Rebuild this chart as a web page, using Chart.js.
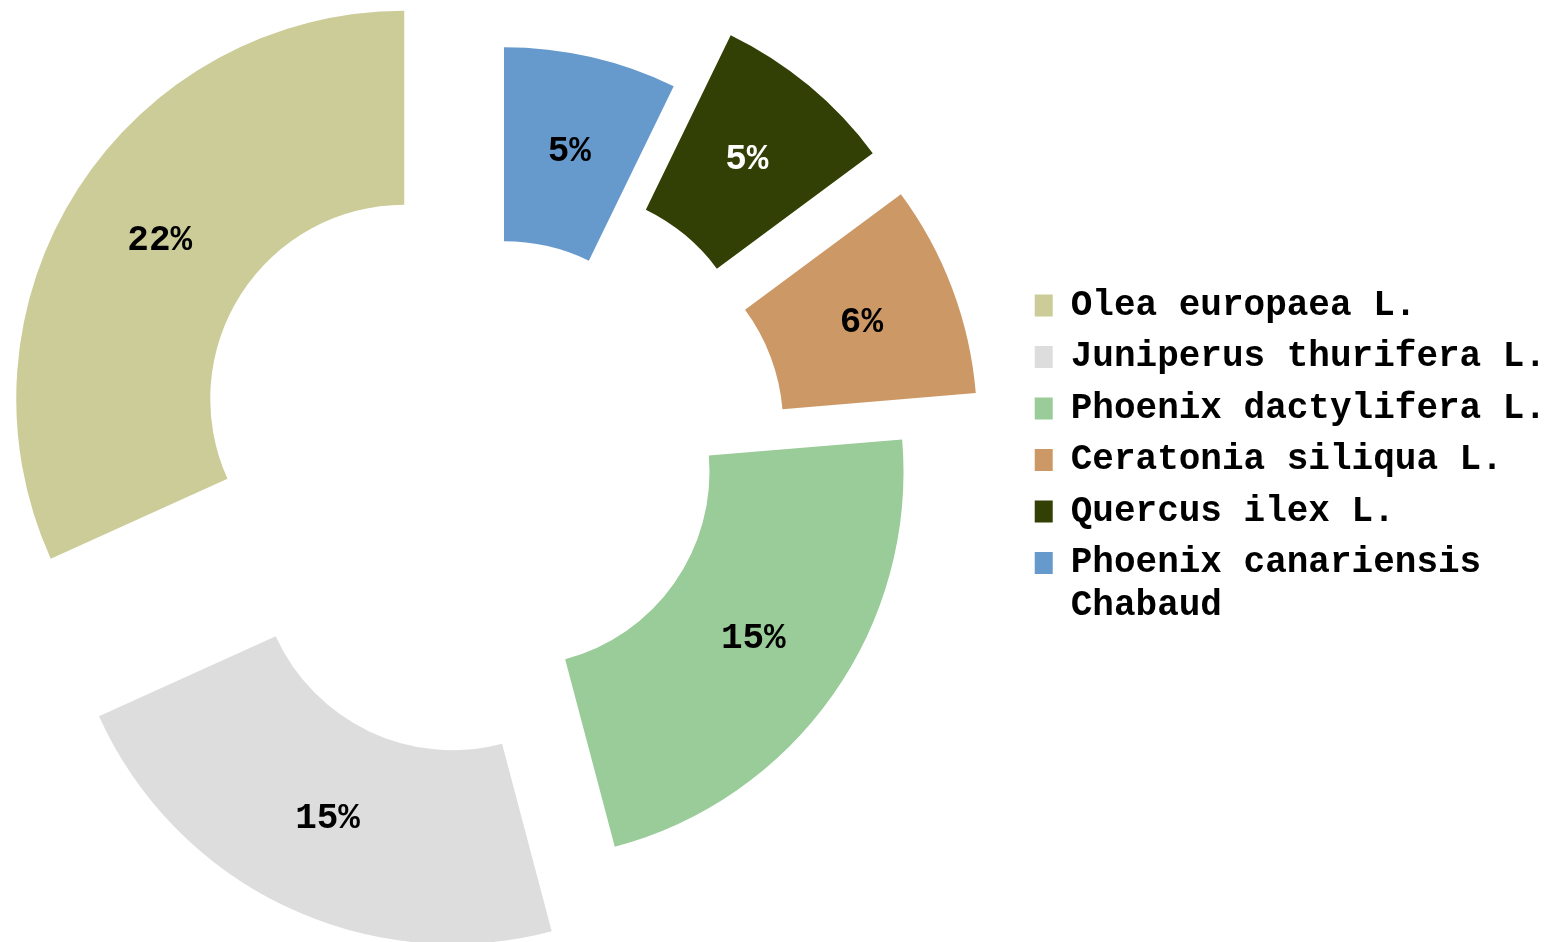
<!DOCTYPE html>
<html>
<head>
<meta charset="utf-8">
<title>Species share</title>
<script src="https://cdn.jsdelivr.net/npm/chart.js@4.4.1/dist/chart.umd.min.js"></script>
<style>
  html, body { margin: 0; padding: 0; background: #fff; overflow: hidden; }
  .frame { position: absolute; left: -30px; top: 0; width: 1586px; height: 942px; }
</style>
</head>
<body>
<div class="frame"><canvas id="chart"></canvas></div>
<script>
// legend order (the ring is drawn in reverse, clockwise from the top)
const species = [
  'Olea europaea L.',
  'Juniperus thurifera L.',
  'Phoenix dactylifera L.',
  'Ceratonia siliqua L.',
  'Quercus ilex L.',
  ['Phoenix canariensis', 'Chabaud']
];
// shares in %; labels show them rounded
const shares = [21.6, 15.2, 15.1, 6.0, 5.2, 4.9];

const sliceColours = ['#CCCC99', '#DDDDDD', '#99CC99', '#CC9966', '#334005', '#6699CC'];
const labelColours = ['#000', '#000', '#000', '#000', '#fff', '#000'];
const pullOut = [112, 107, 21, 97, 98, 25]; // px each slice is pulled away from the centre

const rev = a => a.slice().reverse();
const monoFont = '"Courier New", "Liberation Mono", monospace';

// draws the slices pulled out along their middle angle, then the % labels
const explodePlugin = {
  id: 'explode',
  beforeDatasetDraw(chart, args) {
    const ctx = chart.ctx;
    const shift = rev(pullOut);
    args.meta.data.forEach((arc, i) => {
      const mid = (arc.startAngle + arc.endAngle) / 2;
      ctx.save();
      ctx.translate(Math.cos(mid) * shift[i], Math.sin(mid) * shift[i]);
      arc.draw(ctx);
      ctx.restore();
    });
    return false;
  },
  afterDatasetsDraw(chart) {
    const ctx = chart.ctx;
    const meta = chart.getDatasetMeta(0);
    const values = chart.data.datasets[0].data;
    const shift = rev(pullOut);
    const colours = rev(labelColours);
    ctx.save();
    ctx.font = 'bold 36px ' + monoFont;
    ctx.textAlign = 'center';
    ctx.textBaseline = 'middle';
    meta.data.forEach((arc, i) => {
      const mid = (arc.startAngle + arc.endAngle) / 2;
      const p = arc.tooltipPosition();
      ctx.fillStyle = colours[i];
      ctx.fillText(Math.round(values[i]) + '%', p.x + Math.cos(mid) * shift[i], p.y + Math.sin(mid) * shift[i]);
    });
    ctx.restore();
  }
};

new Chart(document.getElementById('chart'), {
  type: 'doughnut',
  data: {
    labels: rev(species),
    datasets: [{
      data: rev(shares),
      backgroundColor: rev(sliceColours),
      borderWidth: 0,
      hoverOffset: 0
    }]
  },
  options: {
    responsive: true,
    maintainAspectRatio: false,
    animation: false,
    cutout: '50%',
    layout: { padding: { left: 7.5, right: 0, top: 71.5, bottom: 94.5 } },
    plugins: {
      tooltip: { enabled: false },
      legend: {
        position: 'right',
        reverse: true,
        labels: {
          color: '#000',
          boxWidth: 18,
          boxHeight: 22,
          padding: 15.5,
          font: { family: monoFont, size: 36, weight: 'bold' }
        }
      }
    }
  },
  plugins: [explodePlugin]
});
</script>
</body>
</html>
